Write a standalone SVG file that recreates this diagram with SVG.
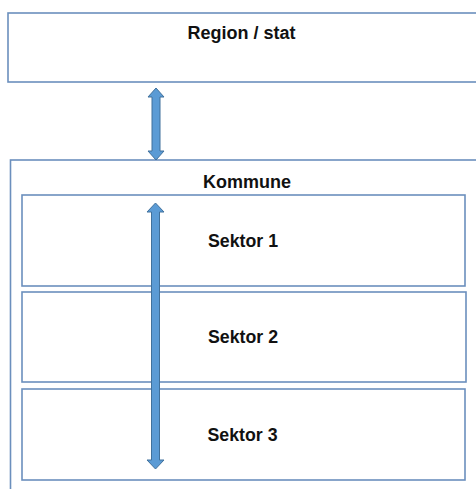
<svg xmlns="http://www.w3.org/2000/svg" width="476" height="489" viewBox="0 0 476 489">
<style>
.box{fill:#ffffff;stroke:#6b8fbd;stroke-width:1.6}
.lbl{font-family:"Liberation Sans",Arial,sans-serif;font-weight:bold;font-size:17.5px;fill:#111111;text-anchor:middle}
.arr{fill:#5b9bd5;stroke:#41719c;stroke-width:1}
</style>
<rect width="476" height="489" fill="#ffffff"/>
<g id="region">
<rect class="box" x="8" y="13" width="480" height="69"/>
<text class="lbl" x="241.5" y="39" textLength="108" lengthAdjust="spacingAndGlyphs">Region / stat</text>
</g>
<g id="kommune">
<rect class="box" x="10.5" y="160" width="480" height="340"/>
<text class="lbl" x="247" y="188" textLength="88" lengthAdjust="spacingAndGlyphs">Kommune</text>
</g>
<g id="sektor1">
<rect class="box" x="22" y="195" width="443" height="91"/>
<text class="lbl" x="243" y="247" textLength="70" lengthAdjust="spacingAndGlyphs">Sektor 1</text>
</g>
<g id="sektor2">
<rect class="box" x="22" y="292" width="444" height="90"/>
<text class="lbl" x="243" y="343" textLength="70" lengthAdjust="spacingAndGlyphs">Sektor 2</text>
</g>
<g id="sektor3">
<rect class="box" x="22" y="389" width="443" height="91"/>
<text class="lbl" x="242.5" y="441" textLength="70" lengthAdjust="spacingAndGlyphs">Sektor 3</text>
</g>
<g id="connectors">
<path class="arr" d="M156 88 L164 97 L160 97 L160 151 L164 151 L156 160 L148 151 L152 151 L152 97 L148 97 Z"/>
<path class="arr" d="M155.5 203 L164 212 L159.5 212 L159.5 460 L164 460 L155.5 469 L147 460 L151.5 460 L151.5 212 L147 212 Z"/>
</g>
</svg>
